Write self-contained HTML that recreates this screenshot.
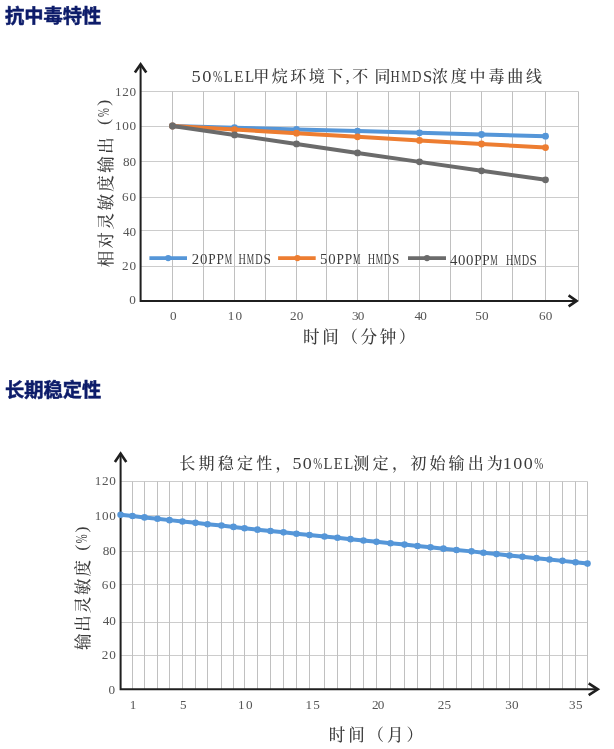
<!DOCTYPE html>
<html lang="zh-CN">
<head>
<meta charset="utf-8">
<title>抗中毒特性 / 长期稳定性</title>
<style>
html,body{margin:0;padding:0;background:#fff;}
body{width:614px;height:749px;position:relative;overflow:hidden;font-family:"Liberation Sans","Noto Sans CJK SC",sans-serif;}
h2{position:absolute;left:5px;margin:0;font-size:19.3px;line-height:24px;font-weight:700;color:#0d1c6a;-webkit-text-stroke:0.5px #0d1c6a;white-space:nowrap;will-change:transform;}
#h1{top:4.6px;}
#h2{top:378.6px;}
svg{position:absolute;left:0;top:0;font-family:"Liberation Serif","Noto Serif CJK SC",serif;will-change:transform;}
</style>
</head>
<body>
<h2 id="h1">抗中毒特性</h2>
<h2 id="h2">长期稳定性</h2>
<svg width="614" height="749" viewBox="0 0 614 749">
<g id="grid1" stroke="#c0c0c0" stroke-width="1" fill="none">
<path stroke="#cccccc" d="M140.6 91.5H578.5M140.6 126.5H578.5M140.6 161.5H578.5M140.6 197.5H578.5M140.6 230.5H578.5M140.6 266.5H578.5"/>
<path d="M172.5 91.5V300.9M203.5 91.5V300.9M234.5 91.5V300.9M265.5 91.5V300.9M296.5 91.5V300.9M326.5 91.5V300.9M357.5 91.5V300.9M388.5 91.5V300.9M419.5 91.5V300.9M450.5 91.5V300.9M481.5 91.5V300.9M512.5 91.5V300.9M545.5 91.5V300.9M578.5 91.5V300.9"/>
</g>
<g id="s-blue">
<polyline fill="none" stroke="#5596d8" stroke-width="4" stroke-linejoin="round" stroke-linecap="round" points="172.5,126 234.5,127.7 296.5,129.4 357.5,131.1 419.5,132.8 481.5,134.5 545.5,136.2"/>
<circle cx="172.5" cy="126" r="3.4" fill="#5596d8"/>
<circle cx="234.5" cy="127.7" r="3.4" fill="#5596d8"/>
<circle cx="296.5" cy="129.4" r="3.4" fill="#5596d8"/>
<circle cx="357.5" cy="131.1" r="3.4" fill="#5596d8"/>
<circle cx="419.5" cy="132.8" r="3.4" fill="#5596d8"/>
<circle cx="481.5" cy="134.5" r="3.4" fill="#5596d8"/>
<circle cx="545.5" cy="136.2" r="3.4" fill="#5596d8"/>
</g>
<g id="s-orange">
<polyline fill="none" stroke="#ed7d31" stroke-width="4" stroke-linejoin="round" stroke-linecap="round" points="172.5,126 234.5,129.6 296.5,133.2 357.5,136.8 419.5,140.4 481.5,144 545.5,147.6"/>
<circle cx="172.5" cy="126" r="3.4" fill="#ed7d31"/>
<circle cx="234.5" cy="129.6" r="3.4" fill="#ed7d31"/>
<circle cx="296.5" cy="133.2" r="3.4" fill="#ed7d31"/>
<circle cx="357.5" cy="136.8" r="3.4" fill="#ed7d31"/>
<circle cx="419.5" cy="140.4" r="3.4" fill="#ed7d31"/>
<circle cx="481.5" cy="144" r="3.4" fill="#ed7d31"/>
<circle cx="545.5" cy="147.6" r="3.4" fill="#ed7d31"/>
</g>
<g id="s-gray">
<polyline fill="none" stroke="#6b6b6b" stroke-width="4" stroke-linejoin="round" stroke-linecap="round" points="172.5,126 234.5,134.97 296.5,143.93 357.5,152.9 419.5,161.87 481.5,170.83 545.5,179.8"/>
<circle cx="172.5" cy="126" r="3.4" fill="#6b6b6b"/>
<circle cx="234.5" cy="134.97" r="3.4" fill="#6b6b6b"/>
<circle cx="296.5" cy="143.93" r="3.4" fill="#6b6b6b"/>
<circle cx="357.5" cy="152.9" r="3.4" fill="#6b6b6b"/>
<circle cx="419.5" cy="161.87" r="3.4" fill="#6b6b6b"/>
<circle cx="481.5" cy="170.83" r="3.4" fill="#6b6b6b"/>
<circle cx="545.5" cy="179.8" r="3.4" fill="#6b6b6b"/>
</g>
<g id="axes1" stroke="#1f1f1f" stroke-width="2" fill="none">
<path d="M140.6 64V300.9H577"/>
<path stroke-width="2.6" d="M134.9 72.6L140.6 64.2L146.3 72.6"/>
<path stroke-width="2.6" d="M568.6 295.4L576.6 300.9L568.6 306.4"/>
</g>
<g id="legend">
<line x1="149.4" y1="258.1" x2="187" y2="258.1" stroke="#5596d8" stroke-width="3.6"/>
<circle cx="168.2" cy="258.1" r="3.1" fill="#5596d8"/>
<line x1="278.1" y1="258.1" x2="315.7" y2="258.1" stroke="#ed7d31" stroke-width="3.6"/>
<circle cx="297.4" cy="258.1" r="3.1" fill="#ed7d31"/>
<line x1="408" y1="258.1" x2="446" y2="258.1" stroke="#6b6b6b" stroke-width="3.6"/>
<circle cx="427" cy="258.1" r="3.1" fill="#6b6b6b"/>
</g>
<g id="grid2" stroke="#c0c0c0" stroke-width="1" fill="none">
<path stroke="#cccccc" d="M120.6 481.5H587.5M120.6 515.5H587.5M120.6 551.5H587.5M120.6 584.5H587.5M120.6 622.5H587.5M120.6 655.5H587.5"/>
<path d="M132.5 481.5V689.3M144.5 481.5V689.3M157.5 481.5V689.3M169.5 481.5V689.3M182.5 481.5V689.3M195.5 481.5V689.3M207.5 481.5V689.3M221.5 481.5V689.3M233.5 481.5V689.3M244.5 481.5V689.3M257.5 481.5V689.3M270.5 481.5V689.3M283.5 481.5V689.3M296.5 481.5V689.3M309.5 481.5V689.3M324.5 481.5V689.3M337.5 481.5V689.3M350.5 481.5V689.3M363.5 481.5V689.3M376.5 481.5V689.3M390.5 481.5V689.3M404.5 481.5V689.3M417.5 481.5V689.3M430.5 481.5V689.3M443.5 481.5V689.3M456.5 481.5V689.3M471.5 481.5V689.3M483.5 481.5V689.3M496.5 481.5V689.3M509.5 481.5V689.3M522.5 481.5V689.3M536.5 481.5V689.3M549.5 481.5V689.3M562.5 481.5V689.3M575.5 481.5V689.3M587.5 481.5V689.3"/>
</g>
<g id="axes2" stroke="#1f1f1f" stroke-width="2" fill="none">
<path d="M120.6 453.5V689.3H598"/>
<path stroke-width="2.6" d="M114.9 462L120.6 453.6L126.3 462"/>
<path stroke-width="2.6" d="M588.7 683.4L597.8 689.3L588.7 695.2"/>
</g>
<g id="s-stab">
<polyline fill="none" stroke="#5596d8" stroke-width="4" stroke-linejoin="round" stroke-linecap="round" points="120.6,514.7 132.5,516.06 144.5,517.42 157.5,518.77 169.5,520.13 182.5,521.49 195.5,522.85 207.5,524.21 221.5,525.56 233.5,526.92 244.5,528.28 257.5,529.64 270.5,531 283.5,532.35 296.5,533.71 309.5,535.07 324.5,536.43 337.5,537.79 350.5,539.14 363.5,540.5 376.5,541.86 390.5,543.22 404.5,544.58 417.5,545.93 430.5,547.29 443.5,548.65 456.5,550.01 471.5,551.37 483.5,552.72 496.5,554.08 509.5,555.44 522.5,556.8 536.5,558.16 549.5,559.51 562.5,560.87 575.5,562.23 587.5,563.59"/>
<circle cx="120.6" cy="514.7" r="3.3" fill="#5596d8"/>
<circle cx="132.5" cy="516.06" r="3.3" fill="#5596d8"/>
<circle cx="144.5" cy="517.42" r="3.3" fill="#5596d8"/>
<circle cx="157.5" cy="518.77" r="3.3" fill="#5596d8"/>
<circle cx="169.5" cy="520.13" r="3.3" fill="#5596d8"/>
<circle cx="182.5" cy="521.49" r="3.3" fill="#5596d8"/>
<circle cx="195.5" cy="522.85" r="3.3" fill="#5596d8"/>
<circle cx="207.5" cy="524.21" r="3.3" fill="#5596d8"/>
<circle cx="221.5" cy="525.56" r="3.3" fill="#5596d8"/>
<circle cx="233.5" cy="526.92" r="3.3" fill="#5596d8"/>
<circle cx="244.5" cy="528.28" r="3.3" fill="#5596d8"/>
<circle cx="257.5" cy="529.64" r="3.3" fill="#5596d8"/>
<circle cx="270.5" cy="531" r="3.3" fill="#5596d8"/>
<circle cx="283.5" cy="532.35" r="3.3" fill="#5596d8"/>
<circle cx="296.5" cy="533.71" r="3.3" fill="#5596d8"/>
<circle cx="309.5" cy="535.07" r="3.3" fill="#5596d8"/>
<circle cx="324.5" cy="536.43" r="3.3" fill="#5596d8"/>
<circle cx="337.5" cy="537.79" r="3.3" fill="#5596d8"/>
<circle cx="350.5" cy="539.14" r="3.3" fill="#5596d8"/>
<circle cx="363.5" cy="540.5" r="3.3" fill="#5596d8"/>
<circle cx="376.5" cy="541.86" r="3.3" fill="#5596d8"/>
<circle cx="390.5" cy="543.22" r="3.3" fill="#5596d8"/>
<circle cx="404.5" cy="544.58" r="3.3" fill="#5596d8"/>
<circle cx="417.5" cy="545.93" r="3.3" fill="#5596d8"/>
<circle cx="430.5" cy="547.29" r="3.3" fill="#5596d8"/>
<circle cx="443.5" cy="548.65" r="3.3" fill="#5596d8"/>
<circle cx="456.5" cy="550.01" r="3.3" fill="#5596d8"/>
<circle cx="471.5" cy="551.37" r="3.3" fill="#5596d8"/>
<circle cx="483.5" cy="552.72" r="3.3" fill="#5596d8"/>
<circle cx="496.5" cy="554.08" r="3.3" fill="#5596d8"/>
<circle cx="509.5" cy="555.44" r="3.3" fill="#5596d8"/>
<circle cx="522.5" cy="556.8" r="3.3" fill="#5596d8"/>
<circle cx="536.5" cy="558.16" r="3.3" fill="#5596d8"/>
<circle cx="549.5" cy="559.51" r="3.3" fill="#5596d8"/>
<circle cx="562.5" cy="560.87" r="3.3" fill="#5596d8"/>
<circle cx="575.5" cy="562.23" r="3.3" fill="#5596d8"/>
<circle cx="587.5" cy="563.59" r="3.3" fill="#5596d8"/>
</g>
<g id="labels" fill="#3c3c3c" font-weight="500">
<text id="t1a" font-size="17.5" y="81.9"><tspan x="191.6" textLength="9.2" lengthAdjust="spacingAndGlyphs">5</tspan><tspan x="202.28" textLength="9.2" lengthAdjust="spacingAndGlyphs">0</tspan><tspan x="212.96" textLength="9.2" lengthAdjust="spacingAndGlyphs">%</tspan><tspan x="223.64" textLength="9.2" lengthAdjust="spacingAndGlyphs">L</tspan><tspan x="234.32" textLength="9.2" lengthAdjust="spacingAndGlyphs">E</tspan><tspan x="245" textLength="9.2" lengthAdjust="spacingAndGlyphs">L</tspan></text>
<text id="t1b" x="253.3" y="81.5" font-size="16" textLength="90" lengthAdjust="spacing">甲烷环境下</text>
<text id="t1c" x="345.5" y="81.9" font-size="17.5">,</text>
<text id="t1d" x="352.3" y="81.5" font-size="16" textLength="38.2" lengthAdjust="spacing">不同</text>
<text id="t1e" font-size="17.5" y="81.9"><tspan x="390.6" textLength="9.2" lengthAdjust="spacingAndGlyphs">H</tspan><tspan x="401.4" textLength="9.2" lengthAdjust="spacingAndGlyphs">M</tspan><tspan x="412.2" textLength="9.2" lengthAdjust="spacingAndGlyphs">D</tspan><tspan x="423" textLength="9.2" lengthAdjust="spacingAndGlyphs">S</tspan></text>
<text id="t1f" x="431.9" y="81.5" font-size="16" textLength="110.2" lengthAdjust="spacing">浓度中毒曲线</text>
<text id="l1a" font-size="15.5" y="263.95"><tspan x="191.7" textLength="7.4" lengthAdjust="spacingAndGlyphs">2</tspan><tspan x="199.95" textLength="7.4" lengthAdjust="spacingAndGlyphs">0</tspan><tspan x="208.2" textLength="7.4" lengthAdjust="spacingAndGlyphs">P</tspan><tspan x="216.45" textLength="7.4" lengthAdjust="spacingAndGlyphs">P</tspan><tspan x="224.7" textLength="7.4" lengthAdjust="spacingAndGlyphs">M</tspan></text>
<text id="l1b" font-size="15.5" y="263.95"><tspan x="238.5" textLength="7.4" lengthAdjust="spacingAndGlyphs">H</tspan><tspan x="246.83" textLength="7.4" lengthAdjust="spacingAndGlyphs">M</tspan><tspan x="255.17" textLength="7.4" lengthAdjust="spacingAndGlyphs">D</tspan><tspan x="263.5" textLength="7.4" lengthAdjust="spacingAndGlyphs">S</tspan></text>
<text id="l2a" font-size="15.5" y="264.35"><tspan x="319.9" textLength="7.4" lengthAdjust="spacingAndGlyphs">5</tspan><tspan x="328.2" textLength="7.4" lengthAdjust="spacingAndGlyphs">0</tspan><tspan x="336.5" textLength="7.4" lengthAdjust="spacingAndGlyphs">P</tspan><tspan x="344.8" textLength="7.4" lengthAdjust="spacingAndGlyphs">P</tspan><tspan x="353.1" textLength="7.4" lengthAdjust="spacingAndGlyphs">M</tspan></text>
<text id="l2b" font-size="15.5" y="264.35"><tspan x="367.7" textLength="7.4" lengthAdjust="spacingAndGlyphs">H</tspan><tspan x="375.77" textLength="7.4" lengthAdjust="spacingAndGlyphs">M</tspan><tspan x="383.83" textLength="7.4" lengthAdjust="spacingAndGlyphs">D</tspan><tspan x="391.9" textLength="7.4" lengthAdjust="spacingAndGlyphs">S</tspan></text>
<text id="l3a" font-size="15.5" y="265.35"><tspan x="449.9" textLength="7.4" lengthAdjust="spacingAndGlyphs">4</tspan><tspan x="457.98" textLength="7.4" lengthAdjust="spacingAndGlyphs">0</tspan><tspan x="466.06" textLength="7.4" lengthAdjust="spacingAndGlyphs">0</tspan><tspan x="474.14" textLength="7.4" lengthAdjust="spacingAndGlyphs">P</tspan><tspan x="482.22" textLength="7.4" lengthAdjust="spacingAndGlyphs">P</tspan><tspan x="490.3" textLength="7.4" lengthAdjust="spacingAndGlyphs">M</tspan></text>
<text id="l3b" font-size="15.5" y="265.35"><tspan x="505.9" textLength="7.4" lengthAdjust="spacingAndGlyphs">H</tspan><tspan x="513.77" textLength="7.4" lengthAdjust="spacingAndGlyphs">M</tspan><tspan x="521.63" textLength="7.4" lengthAdjust="spacingAndGlyphs">D</tspan><tspan x="529.5" textLength="7.4" lengthAdjust="spacingAndGlyphs">S</tspan></text>
<text id="x1" x="303.1" y="342.5" font-size="16.5" textLength="112.2" lengthAdjust="spacing">时间（分钟）</text>
<text id="y1a" x="111.6" y="267.3" font-size="16.5" textLength="130" lengthAdjust="spacing" transform="rotate(-90 111.6 267.3)">相对灵敏度输出</text>
<text id="y1b" transform="translate(108.9 122) rotate(-90)" font-size="16" y="0"><tspan x="-3" textLength="6" lengthAdjust="spacingAndGlyphs">(</tspan><tspan x="5.1" textLength="9" lengthAdjust="spacingAndGlyphs">%</tspan><tspan x="16.2" textLength="6" lengthAdjust="spacingAndGlyphs">)</tspan></text>
<text id="x2" x="328.7" y="740.8" font-size="16.5" textLength="94.2" lengthAdjust="spacing">时间（月）</text>
<text id="y2a" x="89.4" y="650.1" font-size="16.5" textLength="90" lengthAdjust="spacing" transform="rotate(-90 89.4 650.1)">输出灵敏度</text>
<text id="y2b" transform="translate(86.5 547.8) rotate(-90)" font-size="16" y="0"><tspan x="-3" textLength="6" lengthAdjust="spacingAndGlyphs">(</tspan><tspan x="4.6" textLength="9" lengthAdjust="spacingAndGlyphs">%</tspan><tspan x="15.2" textLength="6" lengthAdjust="spacingAndGlyphs">)</tspan></text>
<text id="t2a" x="179.3" y="469.4" font-size="16" textLength="112.2" lengthAdjust="spacing">长期稳定性，</text>
<text id="t2b" font-size="17" y="468.8"><tspan x="292.5" textLength="9" lengthAdjust="spacingAndGlyphs">5</tspan><tspan x="302.84" textLength="9" lengthAdjust="spacingAndGlyphs">0</tspan><tspan x="313.18" textLength="9" lengthAdjust="spacingAndGlyphs">%</tspan><tspan x="323.52" textLength="9" lengthAdjust="spacingAndGlyphs">L</tspan><tspan x="333.86" textLength="9" lengthAdjust="spacingAndGlyphs">E</tspan><tspan x="344.2" textLength="9" lengthAdjust="spacingAndGlyphs">L</tspan></text>
<text id="t2c" x="353.2" y="469.4" font-size="16" textLength="54.7" lengthAdjust="spacing">测定，</text>
<text id="t2d" x="410.5" y="469.4" font-size="16" textLength="92.2" lengthAdjust="spacing">初始输出为</text>
<text id="t2e" font-size="17" y="468.8"><tspan x="502.7" textLength="9" lengthAdjust="spacingAndGlyphs">1</tspan><tspan x="513.23" textLength="9" lengthAdjust="spacingAndGlyphs">0</tspan><tspan x="523.77" textLength="9" lengthAdjust="spacingAndGlyphs">0</tspan><tspan x="534.3" textLength="9" lengthAdjust="spacingAndGlyphs">%</tspan></text>
<text id="c1y120" font-size="12" y="96.35" fill="#555555"><tspan x="114.9" textLength="6.6" lengthAdjust="spacingAndGlyphs">1</tspan><tspan x="122.2" textLength="6.6" lengthAdjust="spacingAndGlyphs">2</tspan><tspan x="129.5" textLength="6.6" lengthAdjust="spacingAndGlyphs">0</tspan></text>
<text id="c1y100" font-size="12" y="129.95" fill="#555555"><tspan x="114.9" textLength="6.6" lengthAdjust="spacingAndGlyphs">1</tspan><tspan x="122.2" textLength="6.6" lengthAdjust="spacingAndGlyphs">0</tspan><tspan x="129.5" textLength="6.6" lengthAdjust="spacingAndGlyphs">0</tspan></text>
<text id="c1y80" font-size="12" y="166.15" fill="#555555"><tspan x="122.9" textLength="6.6" lengthAdjust="spacingAndGlyphs">8</tspan><tspan x="129.5" textLength="6.6" lengthAdjust="spacingAndGlyphs">0</tspan></text>
<text id="c1y60" font-size="12" y="200.95" fill="#555555"><tspan x="121.9" textLength="6.6" lengthAdjust="spacingAndGlyphs">6</tspan><tspan x="129.5" textLength="6.6" lengthAdjust="spacingAndGlyphs">0</tspan></text>
<text id="c1y40" font-size="12" y="236.05" fill="#555555"><tspan x="122.9" textLength="6.6" lengthAdjust="spacingAndGlyphs">4</tspan><tspan x="129.5" textLength="6.6" lengthAdjust="spacingAndGlyphs">0</tspan></text>
<text id="c1y20" font-size="12" y="270.35" fill="#555555"><tspan x="121.9" textLength="6.6" lengthAdjust="spacingAndGlyphs">2</tspan><tspan x="129.5" textLength="6.6" lengthAdjust="spacingAndGlyphs">0</tspan></text>
<text id="c1y0" font-size="12" y="304.25" fill="#555555"><tspan x="129.3" textLength="6.6" lengthAdjust="spacingAndGlyphs">0</tspan></text>
<text id="c1x0" font-size="12" y="319.65" fill="#555555"><tspan x="170.1" textLength="6.6" lengthAdjust="spacingAndGlyphs">0</tspan></text>
<text id="c1x10" font-size="12" y="319.65" fill="#555555"><tspan x="227.7" textLength="6.6" lengthAdjust="spacingAndGlyphs">1</tspan><tspan x="235.5" textLength="6.6" lengthAdjust="spacingAndGlyphs">0</tspan></text>
<text id="c1x20" font-size="12" y="319.65" fill="#555555"><tspan x="289.9" textLength="6.6" lengthAdjust="spacingAndGlyphs">2</tspan><tspan x="296.7" textLength="6.6" lengthAdjust="spacingAndGlyphs">0</tspan></text>
<text id="c1x30" font-size="12" y="319.65" fill="#555555"><tspan x="351.9" textLength="6.6" lengthAdjust="spacingAndGlyphs">3</tspan><tspan x="357.7" textLength="6.6" lengthAdjust="spacingAndGlyphs">0</tspan></text>
<text id="c1x40" font-size="12" y="319.65" fill="#555555"><tspan x="414.5" textLength="6.6" lengthAdjust="spacingAndGlyphs">4</tspan><tspan x="420.3" textLength="6.6" lengthAdjust="spacingAndGlyphs">0</tspan></text>
<text id="c1x50" font-size="12" y="319.65" fill="#555555"><tspan x="475.3" textLength="6.6" lengthAdjust="spacingAndGlyphs">5</tspan><tspan x="482.1" textLength="6.6" lengthAdjust="spacingAndGlyphs">0</tspan></text>
<text id="c1x60" font-size="12" y="319.65" fill="#555555"><tspan x="538.9" textLength="6.6" lengthAdjust="spacingAndGlyphs">6</tspan><tspan x="545.7" textLength="6.6" lengthAdjust="spacingAndGlyphs">0</tspan></text>
<text id="c2y120" font-size="12" y="485.45" fill="#555555"><tspan x="94.7" textLength="6.6" lengthAdjust="spacingAndGlyphs">1</tspan><tspan x="102" textLength="6.6" lengthAdjust="spacingAndGlyphs">2</tspan><tspan x="109.3" textLength="6.6" lengthAdjust="spacingAndGlyphs">0</tspan></text>
<text id="c2y100" font-size="12" y="520.05" fill="#555555"><tspan x="94.7" textLength="6.6" lengthAdjust="spacingAndGlyphs">1</tspan><tspan x="102" textLength="6.6" lengthAdjust="spacingAndGlyphs">0</tspan><tspan x="109.3" textLength="6.6" lengthAdjust="spacingAndGlyphs">0</tspan></text>
<text id="c2y80" font-size="12" y="554.65" fill="#555555"><tspan x="102.7" textLength="6.6" lengthAdjust="spacingAndGlyphs">8</tspan><tspan x="109.3" textLength="6.6" lengthAdjust="spacingAndGlyphs">0</tspan></text>
<text id="c2y60" font-size="12" y="589.25" fill="#555555"><tspan x="101.7" textLength="6.6" lengthAdjust="spacingAndGlyphs">6</tspan><tspan x="109.3" textLength="6.6" lengthAdjust="spacingAndGlyphs">0</tspan></text>
<text id="c2y40" font-size="12" y="624.85" fill="#555555"><tspan x="102.7" textLength="6.6" lengthAdjust="spacingAndGlyphs">4</tspan><tspan x="109.3" textLength="6.6" lengthAdjust="spacingAndGlyphs">0</tspan></text>
<text id="c2y20" font-size="12" y="659.45" fill="#555555"><tspan x="101.7" textLength="6.6" lengthAdjust="spacingAndGlyphs">2</tspan><tspan x="109.3" textLength="6.6" lengthAdjust="spacingAndGlyphs">0</tspan></text>
<text id="c2y0" font-size="12" y="694.05" fill="#555555"><tspan x="108.4" textLength="6.6" lengthAdjust="spacingAndGlyphs">0</tspan></text>
<text id="c2x1" font-size="12" y="708.85" fill="#555555"><tspan x="129.8" textLength="6.6" lengthAdjust="spacingAndGlyphs">1</tspan></text>
<text id="c2x5" font-size="12" y="708.85" fill="#555555"><tspan x="179.9" textLength="6.6" lengthAdjust="spacingAndGlyphs">5</tspan></text>
<text id="c2x10" font-size="12" y="708.85" fill="#555555"><tspan x="238.1" textLength="6.6" lengthAdjust="spacingAndGlyphs">1</tspan><tspan x="245.9" textLength="6.6" lengthAdjust="spacingAndGlyphs">0</tspan></text>
<text id="c2x15" font-size="12" y="708.85" fill="#555555"><tspan x="305.5" textLength="6.6" lengthAdjust="spacingAndGlyphs">1</tspan><tspan x="313.3" textLength="6.6" lengthAdjust="spacingAndGlyphs">5</tspan></text>
<text id="c2x20" font-size="12" y="708.85" fill="#555555"><tspan x="371.9" textLength="6.6" lengthAdjust="spacingAndGlyphs">2</tspan><tspan x="377.7" textLength="6.6" lengthAdjust="spacingAndGlyphs">0</tspan></text>
<text id="c2x25" font-size="12" y="708.85" fill="#555555"><tspan x="437.7" textLength="6.6" lengthAdjust="spacingAndGlyphs">2</tspan><tspan x="444.5" textLength="6.6" lengthAdjust="spacingAndGlyphs">5</tspan></text>
<text id="c2x30" font-size="12" y="708.85" fill="#555555"><tspan x="505.3" textLength="6.6" lengthAdjust="spacingAndGlyphs">3</tspan><tspan x="512.1" textLength="6.6" lengthAdjust="spacingAndGlyphs">0</tspan></text>
<text id="c2x35" font-size="12" y="708.85" fill="#555555"><tspan x="569.1" textLength="6.6" lengthAdjust="spacingAndGlyphs">3</tspan><tspan x="575.9" textLength="6.6" lengthAdjust="spacingAndGlyphs">5</tspan></text>
</g>
</svg>
</body>
</html>
